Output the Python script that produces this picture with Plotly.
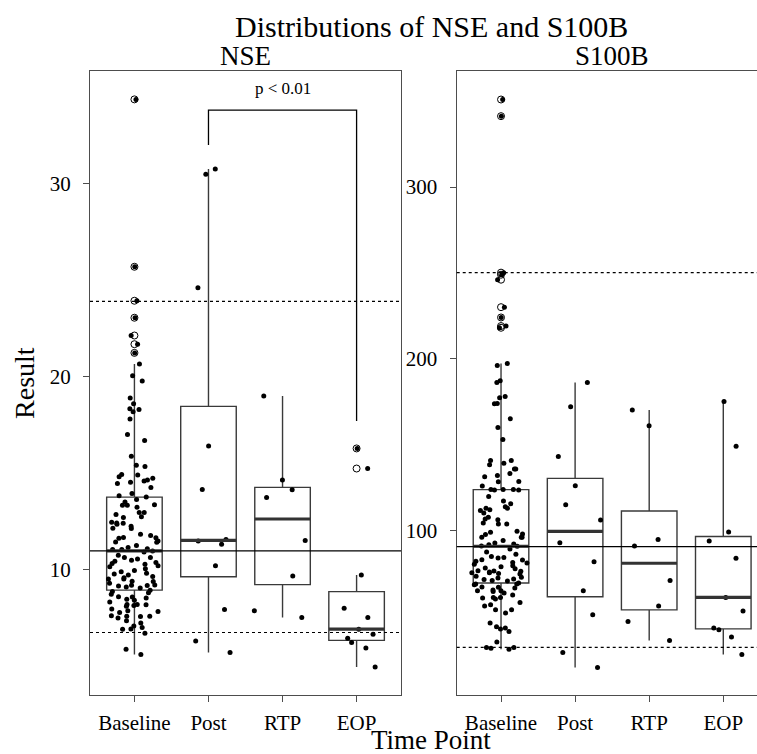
import numpy as np
import plotly.graph_objects as go

# ---------------- data ----------------
categories = ["Baseline", "Post", "RTP", "EOP"]

nse_baseline = [
    34.36, 25.69, 23.93, 23.05, 22.13, 21.68, 21.23, 20.66, 20.04, 19.77,
    18.89, 18.6, 18.33, 18.18, 18.3, 17.81, 17.0, 16.69, 15.88, 15.41,
    15.35, 14.93, 14.74, 14.81, 14.65, 14.53, 14.59, 14.91, 14.47, 14.26,
    13.95, 13.83, 13.64, 13.76, 13.51, 13.34, 13.34, 13.24, 13.36,
    12.96, 12.96, 12.86, 12.70, 12.74, 12.42, 12.46, 12.41, 12.36, 12.13,
    12.15, 11.65, 11.67, 11.84, 11.77, 11.63, 11.44, 11.49, 11.25, 11.42,
    11.08, 11.05, 11.15, 10.92, 11.05, 10.63, 10.49, 10.63, 10.28, 10.37,
    10.56, 10.44, 10.32, 10.15, 9.96, 9.82, 9.78, 9.72, 9.58, 9.52,
    9.40, 9.52, 9.39, 9.18, 9.11, 9.30, 9.21, 9.16, 9.20, 8.94,
    8.80, 8.87, 8.59, 8.54, 8.73, 8.42, 8.33, 8.47, 8.20, 8.15,
    7.97, 8.18, 8.11, 8.20, 7.87, 7.83, 7.58, 7.78, 7.61, 7.59,
    7.59, 7.50, 7.35, 7.24, 7.09, 6.93, 7.0, 6.92, 6.71, 5.88, 5.61,
    8.6, 9.05, 9.65, 10.05, 10.2, 10.75, 9.9, 10.97, 12.25,
]
nse_post = [30.75, 30.48, 24.60, 16.41, 14.15, 11.56, 11.48, 11.32, 10.20, 7.94, 6.31, 5.71]
nse_rtp = [19.0, 14.64, 14.14, 13.74, 11.51, 9.68, 7.87, 7.52]
nse_eop = [16.28, 15.24, 9.73, 8.0, 7.52, 6.92, 6.66, 6.45, 6.23, 5.95, 4.96]

s100b_baseline = [
    351.0, 341.3, 250.2, 249.0, 246.1, 230.1, 224.1, 219.1, 218.1,
    196.2, 197.3, 187.2, 186.2, 177.3, 178.1, 173.8, 174.0, 165.1, 160.0,
    153.0, 138.3, 139.2, 140.8, 140.8, 135.9, 135.9, 133.2, 131.3, 132.1,
    128.6, 128.4, 126.0, 123.7, 123.7, 123.9, 123.9, 123.9, 119.8, 117.3,
    115.7, 113.9, 113.0, 113.0, 112.1, 111.7, 110.3, 107.8, 106.8, 103.9,
    103.9, 104.5, 106.4, 99.6, 97.8, 99.0, 98.1, 96.1, 94.3, 96.1,
    96.1, 92.2, 92.8, 90.9, 89.3, 91.8, 91.1, 84.1, 82.9, 83.1,
    84.4, 85.0, 82.1, 81.5, 81.2, 79.6, 78.3, 76.7, 75.1, 75.5,
    76.3, 75.9, 76.5, 75.5, 74.8, 72.4, 71.6, 71.8, 72.8, 70.9,
    70.7, 68.9, 68.9, 69.5, 68.5, 65.0, 67.0, 67.2, 65.4, 66.6,
    64.5, 65.0, 62.5, 63.7, 61.1, 61.1, 60.2, 58.2, 60.8, 56.9,
    56.1, 52.0, 54.0, 54.0, 44.1, 46.2, 43.3, 42.7, 41.3, 32.0,
    32.0, 31.5, 31.0, 35.1,
    73.5, 77.8, 80.4, 86.2, 87.5, 79.0,
]
s100b_post = [186.2, 172.1, 143.1, 126.2, 115.0, 106.2, 93.0, 81.9, 65.0, 51.0, 29.1, 20.3]
s100b_rtp = [170.3, 161.0, 94.9, 91.1, 70.9, 56.1, 47.1, 36.1]
s100b_eop = [175.2, 149.1, 99.2, 94.0, 83.9, 61.1, 53.2, 43.3, 42.3, 38.1, 27.9]

# reference lines: lower dashed, solid, upper dashed
nse_ref_lines = [6.75, 10.97, 23.9]
s100b_ref_lines = [32.0, 90.7, 250.2]

nse_ticks = [10, 20, 30]
s100b_ticks = [100, 200, 300]

# significance bracket (Post -> EOP) on NSE panel
bracket_from, bracket_to = 1, 3
bracket_y = [32.0, 33.8, 17.7]   # left leg bottom, bar height, right leg bottom
bracket_label = "p < 0.01"
bracket_label_y = 34.9

# ---------------- figure ----------------
FONT = "Liberation Serif"
BOXCOL = "#3a3a3a"
AXCOL = "#4d4d4d"


def box_stats(g):
    a = np.asarray(g, dtype=float)
    q1, med, q3 = np.percentile(a, [25, 50, 75])  # R type 7
    iqr = q3 - q1
    lo = a[a >= q1 - 1.5 * iqr].min()
    hi = a[a <= q3 + 1.5 * iqr].max()
    out = a[(a < lo) | (a > hi)]
    return q1, med, q3, lo, hi, out


fig = go.Figure()

panels = [
    ("x", "y", [nse_baseline, nse_post, nse_rtp, nse_eop], nse_ref_lines),
    ("x2", "y2", [s100b_baseline, s100b_post, s100b_rtp, s100b_eop], s100b_ref_lines),
]

for xa, ya, groups, refs in panels:
    st = [box_stats(g) for g in groups]
    pos = list(range(len(groups)))
    # boxes from R-style (type 7) statistics
    fig.add_trace(go.Box(
        x=pos, q1=[s[0] for s in st], median=[s[1] for s in st],
        q3=[s[2] for s in st], lowerfence=[s[3] for s in st],
        upperfence=[s[4] for s in st],
        xaxis=xa, yaxis=ya, width=0.75, whiskerwidth=0, boxpoints=False,
        fillcolor="rgba(0,0,0,0)", line=dict(color=BOXCOL, width=1.4),
        showlegend=False, hoverinfo="skip",
    ))
    # thick medians
    for i, s in enumerate(st):
        fig.add_trace(go.Scatter(
            x=[i - 0.375, i + 0.375], y=[s[1], s[1]], xaxis=xa, yaxis=ya,
            mode="lines", line=dict(color="#333333", width=3.2),
            showlegend=False, hoverinfo="skip",
        ))
    # outliers as open circles on the box centre
    ox, oy = [], []
    for i, s in enumerate(st):
        ox += [i] * len(s[5])
        oy += list(s[5])
    fig.add_trace(go.Scatter(
        x=ox, y=oy, xaxis=xa, yaxis=ya, mode="markers",
        marker=dict(symbol="circle-open", size=7, color="black",
                    line=dict(width=1, color="black")),
        showlegend=False, hoverinfo="skip",
    ))
    # jittered raw points (invisible box, only points)
    xs, ys = [], []
    for i, g in enumerate(groups):
        xs += [i] * len(g)
        ys += list(g)
    fig.add_trace(go.Box(
        x=xs, y=ys, xaxis=xa, yaxis=ya, width=0.8,
        boxpoints="all", jitter=1, pointpos=0,
        fillcolor="rgba(0,0,0,0)", line=dict(color="rgba(0,0,0,0)", width=0),
        marker=dict(symbol="circle", size=5, color="black"),
        showlegend=False, hoverinfo="skip",
    ))
    # reference lines
    for k, v in enumerate(refs):
        fig.add_shape(type="line", xref=f"{xa} domain", yref=ya,
                      x0=0, x1=1, y0=v, y1=v,
                      line=dict(color="black", width=1.3 if k == 1 else 1.1,
                                dash="solid" if k == 1 else "dot"),
                      layer="above")

# bracket
fig.add_trace(go.Scatter(
    x=[bracket_from, bracket_from, bracket_to, bracket_to],
    y=[bracket_y[0], bracket_y[1], bracket_y[1], bracket_y[2]],
    xaxis="x", yaxis="y", mode="lines",
    line=dict(color="black", width=1.3), showlegend=False, hoverinfo="skip",
))
fig.add_annotation(x=(bracket_from + bracket_to) / 2, y=bracket_label_y,
                   xref="x", yref="y", text=bracket_label, showarrow=False,
                   font=dict(family=FONT, size=17, color="black"))

axis_common = dict(
    showgrid=False, zeroline=False, showline=True, linecolor=AXCOL,
    linewidth=1.3, ticks="outside", ticklen=6, tickwidth=1.2, tickcolor=AXCOL,
    tickfont=dict(family=FONT, size=21, color="black"),
)

fig.update_layout(
    width=757, height=754,
    margin=dict(l=90, r=0, t=71, b=59),
    paper_bgcolor="white", plot_bgcolor="white",
    showlegend=False, boxmode="overlay",
    xaxis=dict(domain=[0, 0.4663], range=[-0.6, 3.6], tickvals=[0, 1, 2, 3],
               ticktext=categories, mirror=True, anchor="y",
               ticklabelstandoff=3, **axis_common),
    yaxis=dict(range=[3.51, 35.83], tickvals=nse_ticks, mirror=True,
               anchor="x", ticklabelstandoff=8, **axis_common),
    xaxis2=dict(domain=[0.5498, 1], range=[-0.598, 3.455], tickvals=[0, 1, 2, 3],
                ticktext=categories, mirror=True, anchor="y2",
                ticklabelstandoff=3, **axis_common),
    yaxis2=dict(range=[4.3, 367.6], tickvals=s100b_ticks, mirror=False,
                anchor="x2", ticklabelstandoff=8, **axis_common),
)


def ann(text, x, y, size, angle=0):
    fig.add_annotation(text=text, x=x, y=y, xref="paper", yref="paper",
                       showarrow=False, textangle=angle,
                       xanchor="center", yanchor="middle",
                       font=dict(family=FONT, size=size, color="black"))


ann("Distributions of NSE and S100B", 0.5127, 1.072, 30)
ann("NSE", 0.2324, 1.024, 27)
ann("S100B", 0.7826, 1.024, 27)
ann("Result", -0.099, 0.5, 28, angle=-90)
ann("Time Point", 0.5112, -0.072, 27)

fig.write_html(
    "out.html",
    config={"displayModeBar": False},
    post_script="document.body.style.margin='0px';document.body.style.overflow='hidden';",
)
